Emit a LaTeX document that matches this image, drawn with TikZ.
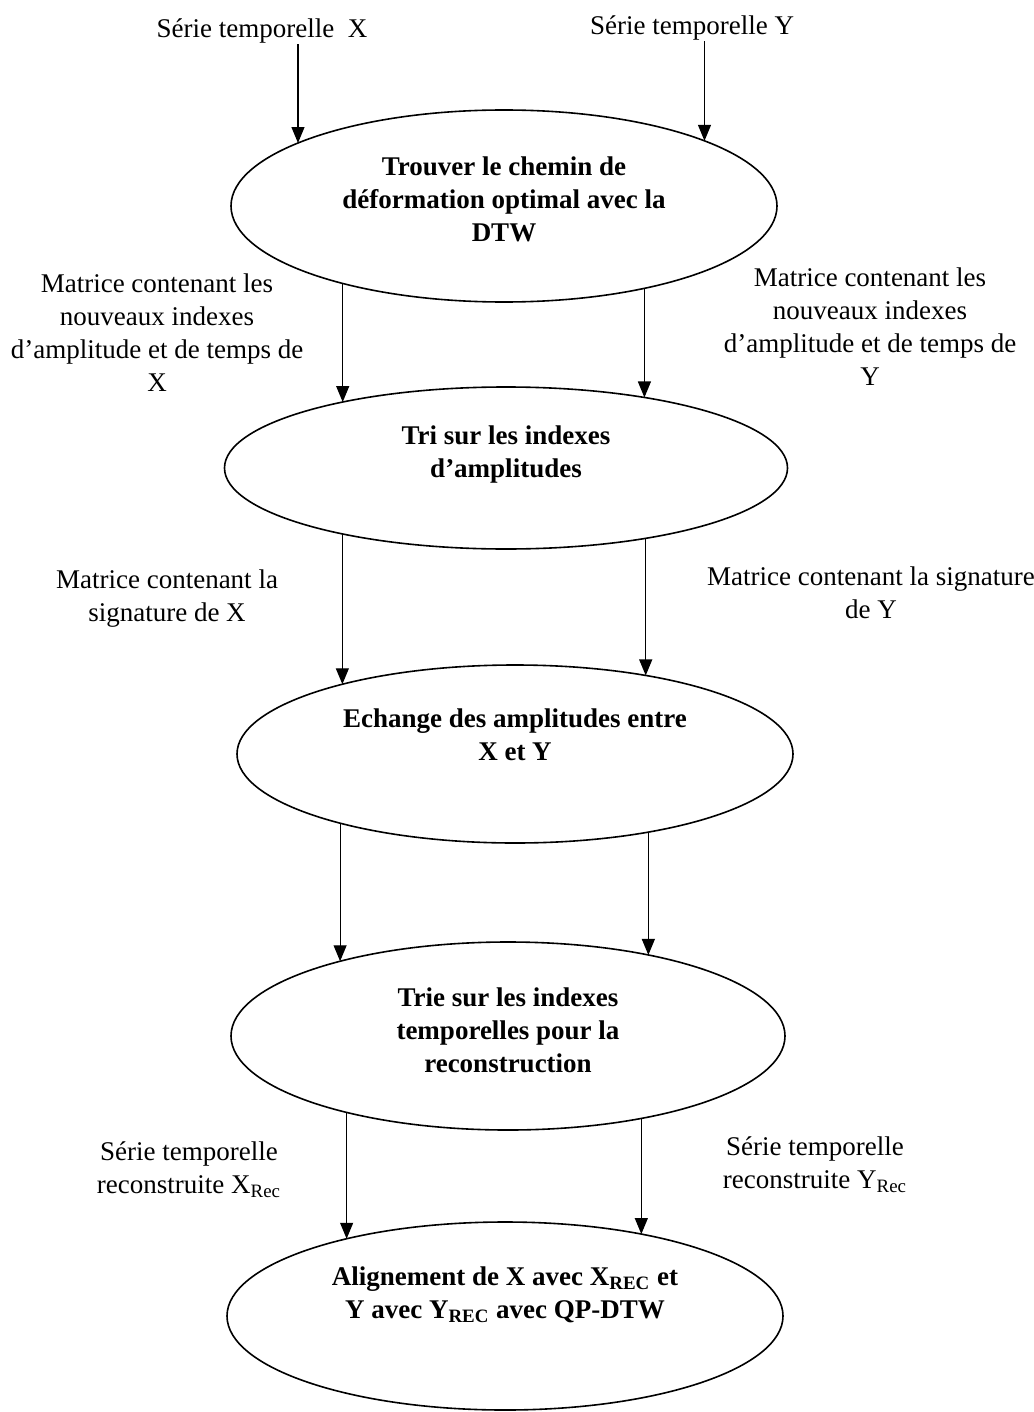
\documentclass[tikz,border=0pt]{standalone}
\usepackage{fontspec}
\setmainfont{Liberation Serif}
\usetikzlibrary{arrows.meta, shapes.geometric, calc}
\tikzset{
  every picture/.style={font=\fontsize{13.5}{16.5}\selectfont, line width=0.5pt},
  proc/.style={draw, ellipse, line width=0.8pt, inner sep=0pt, outer sep=0pt},
  ptext/.style={font=\fontsize{13.5}{16.5}\selectfont\bfseries, align=center, inner sep=0pt},
  lbl/.style={align=center, inner sep=0pt},
  arrow/.style={-{Triangle[length=8pt, width=6.5pt]}, draw=black, line width=0.6pt},
}
\begin{document}
\begin{tikzpicture}[x=0.5pt, y=-0.5pt]
  \useasboundingbox (0,0) rectangle (1033,1412);
  % the five steps
  \foreach \n/\x/\y/\w/\h in {e1/504/206/546/192, e2/506/468/563/162, e3/515/754/556/178, e4/508/1036/554/188, e5/505/1316/556/188}
    \node[proc, minimum width=\w*0.5pt, minimum height=\h*0.5pt] (\n) at (\x,\y) {};
  \node[ptext] (t1) at ([yshift=3.5pt]e1.center) {Trouver le chemin de\\déformation optimal avec la\\DTW};
  \node[ptext] (t2) at ([yshift=6.5pt]e2.center) {Tri sur les indexes\\d’amplitudes};
  \node[ptext] (t3) at ([yshift=9.5pt]e3.center) {Echange des amplitudes entre\\X et Y};
  \node[ptext] (t4) at ([yshift=3pt]e4.center) {Trie sur les indexes\\temporelles pour la\\reconstruction};
  \node[ptext] (t5) at ([yshift=10.5pt]e5.center) {Alignement de X avec X\textsubscript{REC} et\\Y avec Y\textsubscript{REC} avec QP-DTW};
  % inputs
  \node[lbl, anchor=base] (sx) at (262,38) {Série temporelle\ \ X};
  \node[lbl, anchor=base] (sy) at (692,35) {Série temporelle Y};
  \draw[arrow] (sx.south -| e1.163) -- (e1.163);
  \draw[arrow] (sy.south -| e1.18) -- (e1.18);
  % what flows between the steps
  \node[lbl] (mx1) at (157,333) {Matrice contenant les\\nouveaux indexes\\d’amplitude et de temps de\\X};
  \node[lbl] (my1) at (870,327) {Matrice contenant les\\nouveaux indexes\\d’amplitude et de temps de\\Y};
  \node[lbl] (mx2) at (167,599) {Matrice contenant la\\signature de X};
  \node[lbl] (my2) at (871,593) {Matrice contenant la signature\\de Y};
  \node[lbl] (rx) at (189,1170) {Série temporelle\\reconstruite X\textsubscript{Rec}};
  \node[lbl] (ry) at (815,1165) {Série temporelle\\reconstruite Y\textsubscript{Rec}};
  \foreach \a/\sa/\b/\sb in {e1/206/e2/158, e1/329/e2/27, e2/202/e3/158, e2/333/e3/31, e3/202/e4/156, e3/329/e4/30, e4/205/e5/154, e4/329/e5/31}
    \draw[arrow] (\a.\sa -| \b.\sb) -- (\b.\sb);
\end{tikzpicture}
\end{document}
